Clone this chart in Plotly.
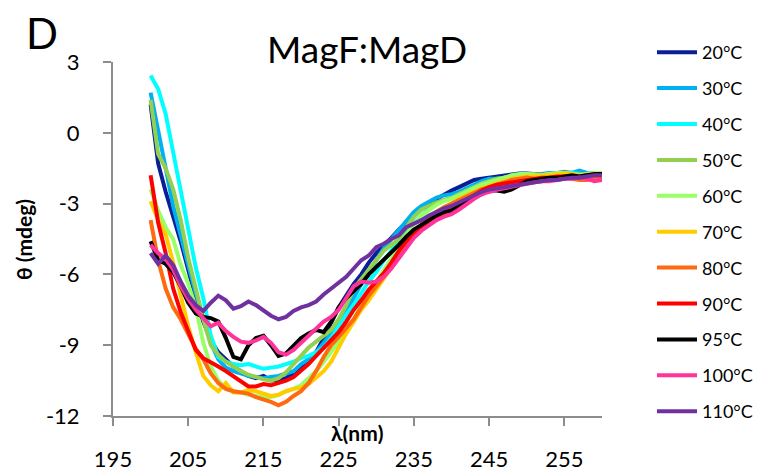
import plotly.graph_objects as go

wavelength = list(range(200, 261))

labels = ["20°C", "30°C", "40°C", "50°C", "60°C", "70°C", "80°C", "90°C", "95°C", "100°C", "110°C"]
colors = ["#0A1E96", "#00B0F0", "#00FFFF", "#92D050", "#99FF66", "#FFCC00",
          "#FF6A10", "#FF0000", "#000000", "#FF3399", "#7030A0"]

t20 = [1.2, -1.3, -2.5, -3.5, -4.6, -5.8, -7.0, -8.0, -8.8, -9.3,
       -9.6, -9.9, -10.1, -10.3, -10.4, -10.3, -10.5, -10.5, -10.4, -10.2,
       -9.9, -9.6, -9.3, -8.7, -8.0, -7.4, -6.9, -6.4, -6.0, -5.5,
       -5.1, -4.8, -4.45, -4.1, -3.8, -3.4, -3.15, -2.95, -2.8, -2.6,
       -2.45, -2.3, -2.15, -2.0, -1.95, -1.9, -1.85, -1.8, -1.75, -1.72,
       -1.72, -1.75, -1.8, -1.8, -1.8, -1.8, -1.7, -1.8, -1.8, -1.7, -1.7]
t30 = [1.7, 0.2, -1.5, -3.1, -4.4, -5.6, -6.8, -7.9, -8.9, -9.6,
       -9.95, -10.1, -10.2, -10.3, -10.35, -10.4, -10.35, -10.3, -10.2, -10.1,
       -9.8, -9.6, -9.3, -8.9, -8.5, -8.0, -7.5, -7.0, -6.4, -5.9,
       -5.4, -4.9, -4.5, -4.1, -3.7, -3.35, -3.1, -2.9, -2.75, -2.65,
       -2.6, -2.5, -2.35, -2.2, -2.05, -1.95, -1.95, -1.9, -1.85, -1.8,
       -1.8, -1.8, -1.75, -1.7, -1.7, -1.65, -1.7, -1.6, -1.7, -1.75, -1.75]
t40 = [2.43, 1.85, 0.8, -0.8, -2.3, -4.1, -5.7, -7.0, -8.6, -9.5,
       -9.7, -9.8, -9.85, -9.8, -9.9, -10.0, -9.95, -9.9, -9.8, -9.7,
       -9.55, -9.45, -9.3, -9.1, -8.7, -8.2, -7.7, -7.3, -6.8, -6.3,
       -5.9, -5.4, -5.0, -4.5, -4.1, -3.8, -3.45, -3.2, -3.0, -2.85,
       -2.75, -2.6, -2.45, -2.3, -2.15, -2.05, -2.0, -1.95, -1.9, -1.85,
       -1.85, -1.8, -1.8, -1.85, -1.8, -1.75, -1.7, -1.75, -1.8, -1.75, -1.7]
t50 = [1.4, -0.9, -1.5, -2.4, -3.7, -5.3, -6.6, -7.9, -9.0, -9.4,
       -9.7, -9.9, -10.1, -10.25, -10.35, -10.45, -10.5, -10.4, -10.15, -9.8,
       -9.4, -9.1, -8.85, -8.6, -8.35, -7.9, -7.3, -6.6, -6.2, -5.8,
       -5.38, -5.0, -4.75, -4.5, -4.0, -3.55, -3.25, -3.1, -2.95, -2.85,
       -2.75, -2.6, -2.45, -2.3, -2.15, -2.05, -1.95, -1.9, -1.85, -1.8,
       -1.75, -1.75, -1.8, -1.75, -1.75, -1.7, -1.75, -1.8, -1.75, -1.7, -1.7]
t60 = [-2.4, -3.3, -4.0, -4.5, -5.6, -6.4, -7.4, -8.9, -9.9, -10.5,
       -10.85, -10.95, -11.0, -11.1, -11.15, -11.2, -11.2, -11.1, -10.95, -10.85,
       -10.7, -10.4, -10.1, -9.7, -9.3, -8.85, -8.4, -7.9, -7.3, -6.8,
       -6.3, -5.8, -5.3, -4.8, -4.3, -3.85, -3.5, -3.25, -3.05, -2.9,
       -2.8, -2.65, -2.5, -2.35, -2.2, -2.1, -2.0, -1.9, -1.8, -1.75,
       -1.75, -1.8, -1.8, -1.75, -1.7, -1.7, -1.75, -1.8, -1.75, -1.7, -1.7]
t70 = [-2.9, -3.7, -4.3, -5.5, -6.9, -8.2, -9.3, -10.3, -10.7, -10.95,
       -10.6, -11.0, -11.0, -10.9, -10.95, -11.05, -11.15, -11.1, -10.95, -10.85,
       -10.8, -10.65, -10.4, -10.1, -9.7, -9.1, -8.5, -8.0, -7.5, -7.1,
       -6.65, -6.2, -5.7, -5.2, -4.7, -4.25, -3.9, -3.6, -3.35, -3.15,
       -3.0, -2.8, -2.65, -2.5, -2.35, -2.25, -2.15, -2.05, -1.95, -1.9,
       -1.85, -1.85, -1.8, -1.8, -1.75, -1.7, -1.75, -1.8, -1.8, -1.75, -1.75]
t80 = [-3.7, -5.4, -6.6, -7.4, -7.9, -8.5, -9.15, -9.6, -10.2, -10.6,
       -10.85, -10.95, -11.0, -11.05, -11.2, -11.3, -11.4, -11.55, -11.4, -11.15,
       -10.95, -10.6, -10.1, -9.5, -9.0, -8.65, -8.3, -7.9, -7.4, -6.9,
       -6.5, -6.1, -5.6, -5.1, -4.6, -4.2, -3.9, -3.6, -3.35, -3.15,
       -3.0, -2.85, -2.7, -2.55, -2.4, -2.3, -2.2, -2.1, -2.0, -1.95,
       -1.9, -1.95, -2.05, -2.0, -1.95, -1.9, -1.95, -2.0, -2.0, -1.95, -1.9]
t90 = [-1.8, -3.8, -5.1, -6.6, -7.6, -8.4, -9.2, -9.55, -9.75, -9.9,
       -10.1, -10.3, -10.55, -10.75, -10.75, -10.65, -10.7, -10.6, -10.5, -10.35,
       -10.1, -9.8, -9.45, -9.1, -8.8, -8.45, -8.0, -7.5, -7.1, -6.65,
       -6.3, -5.95, -5.5, -5.0, -4.6, -4.3, -4.0, -3.75, -3.55, -3.4,
       -3.25, -3.05, -2.85, -2.65, -2.45, -2.3, -2.2, -2.15, -2.1, -2.05,
       -2.0, -1.95, -1.9, -1.9, -1.85, -1.85, -1.9, -1.85, -1.8, -1.8, -1.8]
t95 = [-4.6, -5.4, -5.55, -5.9, -6.5, -7.2, -7.65, -7.8, -7.85, -8.0,
       -8.7, -9.5, -9.6, -9.0, -8.7, -8.6, -9.0, -9.45, -9.35, -9.05,
       -8.7, -8.5, -8.35, -8.45, -8.0, -7.4, -7.0, -6.7, -6.4, -6.0,
       -5.7, -5.4, -5.1, -4.75, -4.4, -4.1, -3.9, -3.7, -3.5, -3.35,
       -3.3, -3.1, -2.9, -2.75, -2.6, -2.45, -2.45, -2.5, -2.4, -2.2,
       -2.05, -2.0, -1.95, -1.9, -1.9, -1.85, -1.8, -1.85, -1.8, -1.75, -1.75]
t100 = [-4.75, -5.1, -5.35, -5.8, -6.5, -7.05, -7.5, -7.85, -8.2, -8.05,
        -8.4, -8.65, -8.85, -8.9, -8.8, -8.65, -8.9, -9.3, -9.4, -9.2,
        -8.9, -8.6, -8.3, -8.0, -7.8, -7.5, -7.0, -6.5, -6.3, -6.35,
        -6.3, -6.1, -5.75, -5.3, -4.85, -4.45, -4.15, -3.9, -3.7, -3.55,
        -3.45, -3.25, -3.0, -2.8, -2.6, -2.5, -2.42, -2.35, -2.28, -2.2,
        -2.15, -2.1, -2.05, -2.05, -2.0, -1.95, -1.95, -1.9, -1.95, -2.05, -2.0]
t110 = [-5.1, -5.55, -5.2, -5.6, -6.3, -6.9, -7.3, -7.55, -7.2, -6.9,
        -7.1, -7.45, -7.35, -7.15, -7.3, -7.5, -7.75, -7.9, -7.8, -7.55,
        -7.4, -7.3, -7.15, -6.85, -6.6, -6.4, -6.1, -5.75, -5.4, -5.2,
        -4.85, -4.7, -4.5, -4.35, -4.0, -3.85, -3.7, -3.5, -3.35, -3.2,
        -3.1, -2.95, -2.8, -2.65, -2.5, -2.4, -2.35, -2.3, -2.25, -2.2,
        -2.15, -2.1, -2.05, -2.0, -2.0, -1.95, -1.9, -1.9, -1.85, -1.8, -1.8]

series = [t20, t30, t40, t50, t60, t70, t80, t90, t95, t100, t110]

x_ticks = [195, 205, 215, 225, 235, 245, 255]
y_ticks = [3, 0, -3, -6, -9, -12]

FONT = "Lato"
W, H = 763, 474
OFF = 8  # page body margin offset
# plot area in page pixels
P_LEFT, P_RIGHT, P_TOP, P_BOTTOM = 113, 602, 62, 416
L = P_LEFT - OFF
T = P_TOP - OFF
R = W - (P_RIGHT - OFF)
B = H - (P_BOTTOM - OFF)
PH = P_BOTTOM - P_TOP
PW = P_RIGHT - P_LEFT


def py(y_page):
    return (P_BOTTOM - y_page) / PH


def px(x_page):
    return (x_page - P_LEFT) / PW


fig = go.Figure()
for i, (name, col, vals) in enumerate(zip(labels, colors, series)):
    fig.add_trace(go.Scatter(
        x=wavelength, y=vals, mode="lines", name=name,
        line=dict(color=col, width=4),
        legendgroup=f"g{i}",
    ))

axis_col = "#8C8C8C"
fig.update_layout(
    width=W, height=H,
    margin=dict(l=L, r=R, t=T, b=B, autoexpand=False),
    paper_bgcolor="white", plot_bgcolor="white",
    font=dict(family=FONT, color="black"),
    showlegend=True,
    legend=dict(
        x=px(652), xanchor="left", y=py(34), yanchor="top",
        font=dict(family=FONT, size=18, color="black"),
        tracegroupgap=9.5, itemwidth=40, maxheight=470,
        bgcolor="rgba(0,0,0,0)",
    ),
    xaxis=dict(
        range=[195, 260], tickvals=x_ticks, ticktext=[str(v) for v in x_ticks],
        showgrid=False, zeroline=False, showline=True, linecolor=axis_col, linewidth=2,
        ticks="outside", ticklen=8, tickwidth=2, tickcolor=axis_col,
        tickfont=dict(family=FONT, size=22, color="black"),
        ticklabelstandoff=15, automargin=False,
    ),
    yaxis=dict(
        range=[-12, 3], tickvals=y_ticks, ticktext=[str(v) for v in y_ticks],
        showgrid=False, zeroline=False, showline=True, linecolor=axis_col, linewidth=2,
        ticks="outside", ticklen=8, tickwidth=2, tickcolor=axis_col,
        tickfont=dict(family=FONT, size=22, color="black"),
        ticklabelstandoff=19, automargin=False,
    ),
    annotations=[
        dict(text="MagF:MagD", xref="paper", yref="paper", x=px(367), y=py(49),
             xanchor="center", yanchor="middle", showarrow=False,
             font=dict(family=FONT, size=37, color="black")),
        dict(text="D", xref="paper", yref="paper", x=px(42), y=py(6),
             xanchor="center", yanchor="top", showarrow=False,
             font=dict(family=FONT, size=42, color="black")),
        dict(text="<b>θ (mdeg)</b>", xref="paper", yref="paper", x=px(24), y=py(240),
             xanchor="center", yanchor="middle", showarrow=False, textangle=-90,
             font=dict(family=FONT, size=21, color="black")),
        dict(text="<b>λ(nm)</b>", xref="paper", yref="paper", x=px(357), y=py(432),
             xanchor="center", yanchor="middle", showarrow=False,
             font=dict(family=FONT, size=21, color="black")),
    ],
)

fig.write_html("out.html")
